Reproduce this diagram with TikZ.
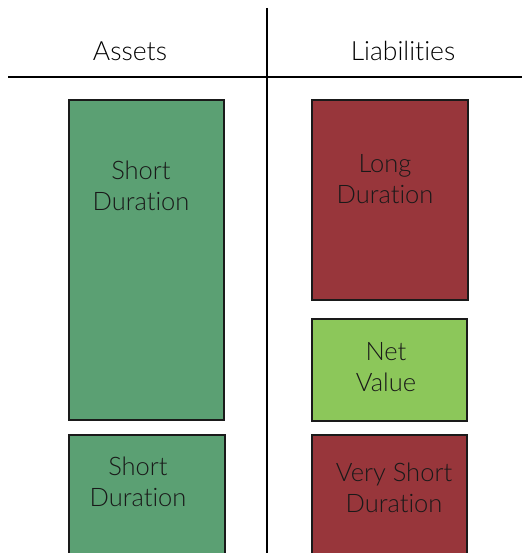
\documentclass[tikz,border=0pt]{standalone}
\usepackage{fontspec}
\setmainfont{Lato Light}[Ligatures=NoCommon]
\definecolor{assetgreen}{HTML}{5BA073}
\definecolor{liabred}{HTML}{98363B}
\definecolor{netgreen}{HTML}{8CC75A}
\definecolor{edge}{HTML}{1A1A1A}
\begin{document}
\begin{tikzpicture}[x=1pt,y=-1pt,
  blk/.style={draw=edge,line width=2pt,rectangle,anchor=north west,inner sep=0pt},
  lbl/.style={font=\fontsize{25.5}{31}\selectfont,align=center,text=black!90,inner sep=0pt},
  hdr/.style={font=\fontsize{26.5}{30}\selectfont,inner sep=0pt}]
\useasboundingbox (0,0) rectangle (522,553);
\clip (0,0) rectangle (522,553);
\coordinate (vtop) at (267,8);
\coordinate (vbot) at (267,553);
\coordinate (hl) at (8,77);
\coordinate (hr) at (522,77);
\draw[line width=1.6pt] (vtop) -- (vbot);
\draw[line width=1.6pt] (hl) -- (hr);
\node[hdr] (assets) at (130,51) {Assets};
\node[hdr] (liab) at (403,51) {Liabilities};
% boxes
\node[blk,fill=assetgreen,minimum width=155pt,minimum height=320pt] (a1) at (68,99) {};
\node[blk,fill=assetgreen,minimum width=156pt,minimum height=130pt] (a2) at (68,434) {};
\node[blk,fill=liabred,minimum width=156pt,minimum height=200pt] (l1) at (311,99) {};
\node[blk,fill=netgreen,minimum width=155pt,minimum height=102pt] (nv) at (311,318) {};
\node[blk,fill=liabred,minimum width=155pt,minimum height=130pt] (l2) at (311,434) {};
% labels
\node[lbl] (ta1) at (141,186) {Short\\Duration};
\node[lbl] (ta2) at (138,482) {Short\\Duration};
\node[lbl] (tl1) at (385,179) {Long\\Duration};
\node[lbl] (tnv) at (386,367) {Net\\Value};
\node[lbl] (tl2) at (394,488) {Very Short\\Duration};
\end{tikzpicture}
\end{document}
